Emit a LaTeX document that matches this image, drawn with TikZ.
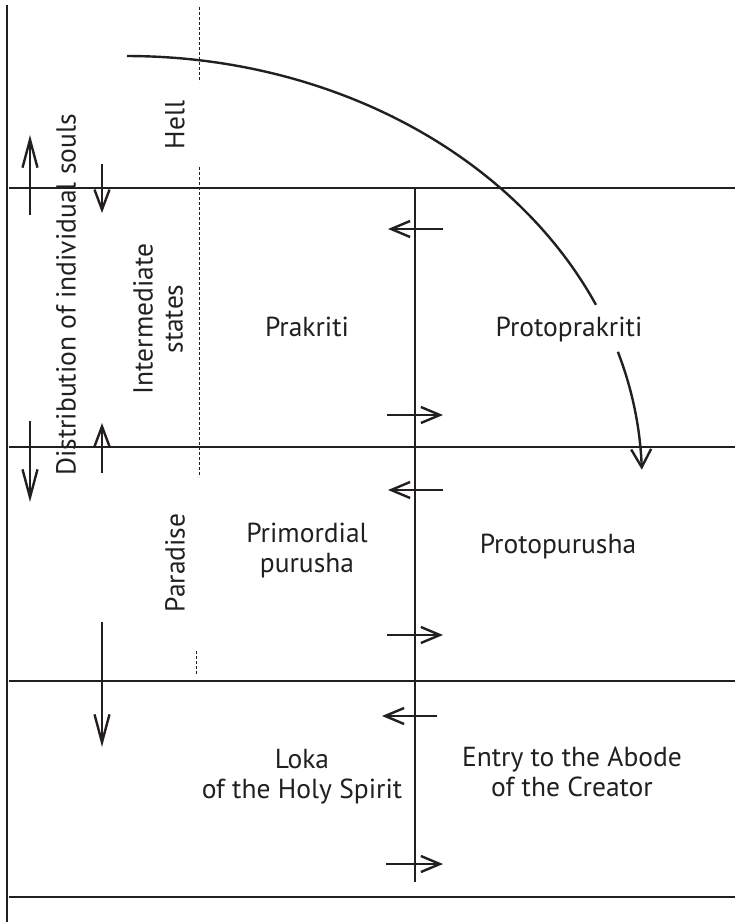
\documentclass[tikz,border=0pt]{standalone}
\usepackage{fontspec}
\setmainfont{PT Sans}
\usetikzlibrary{arrows.meta}
\definecolor{ink}{RGB}{35,31,32}
\begin{document}
\begin{tikzpicture}[x=1pt,y=-1pt,
  frame/.style={line width=2.6pt, draw=ink},
  guide/.style={line width=0.9pt, dash pattern=on 3pt off 2pt, draw=ink},
  soullong/.style={line width=2.4pt, draw=ink, -{Straight Barb[length=28pt,width=15pt]}},
  soulshort/.style={line width=2.4pt, draw=ink, -{Straight Barb[length=20pt,width=15pt]}},
  flow/.style={line width=2.4pt, draw=ink, -{Straight Barb[length=19pt,width=16pt]}},
  curve/.style={line width=2.4pt, draw=ink},
  lbl/.style={font=\fontsize{27.5}{30}\selectfont, text=ink, inner sep=0pt, align=center},
  vlbl/.style={lbl, rotate=90}]
\useasboundingbox (0,0) rectangle (735,922);
% frame lines
\draw[frame] (7,5) -- (7,922);
\foreach \yy in {188,447,681,897} \draw[frame] (9,\yy) -- (735,\yy);
\draw[frame] (415,188) -- (415,882);
% dashed guides
\draw[guide] (199,7) -- (199,82);
\draw[guide] (199,167) -- (199,477);
\draw[guide] (196,651) -- (196,675);
% soul arrows
\draw[soullong] (30,215) -- (30,135);
\draw[soulshort] (102,164) -- (102,213);
\draw[soullong] (30,421) -- (30,502);
\draw[soulshort] (102,473) -- (102,423);
\draw[soullong] (102,622) -- (102,747);
% centre arrows
\draw[flow] (443,229) -- (388,229);
\draw[flow] (387,415) -- (443,415);
\draw[flow] (443,490) -- (388,490);
\draw[flow] (387,635) -- (443,635);
\draw[flow] (437,716) -- (382,716);
\draw[flow] (386,864) -- (443,864);
% big curve
\draw[curve] plot[domain=-90:-24.4, samples=90] ({127+515*cos(\x)},{480+424*sin(\x)});
\draw[curve, -{Straight Barb[length=18pt,width=20pt]}] plot[domain=-17.6:-1.4, samples=30] ({127+515*cos(\x)},{480+424*sin(\x)});
% labels
\node[vlbl] (dist) at (66,295) {Distribution of individual souls};
\node[vlbl] (hell) at (175,125) {Hell};
\node[vlbl] (inter) at (158,319) {Intermediate\\states};
\node[vlbl] (para) at (175,563) {Paradise};
\node[lbl, anchor=base] (prak) at (307,336) {Prakriti};
\node[lbl, anchor=base] (protoprak) at (569,336) {Protoprakriti};
\node[lbl, anchor=base] (primp) at (307,572) {Primordial\\purusha};
\node[lbl, anchor=base] (protop) at (558,553) {Protopurusha};
\node[lbl, anchor=base] (loka) at (302,798) {Loka\\of the Holy Spirit};
\node[lbl, anchor=base] (entry) at (572,796) {Entry to the Abode\\of the Creator};
\end{tikzpicture}
\end{document}
